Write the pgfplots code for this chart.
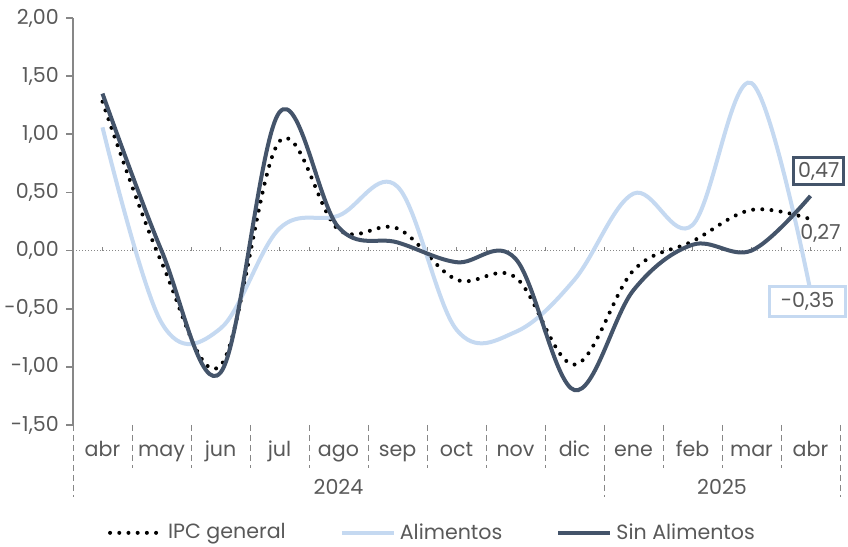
\documentclass[border=0pt]{standalone}
\usepackage{fontspec}
\setmainfont{Poppins}
\usepackage{pgfplots}
\pgfplotsset{compat=1.18}

\definecolor{sinal}{HTML}{44546A}
\definecolor{alim}{HTML}{C5D9F1}
\definecolor{txt}{HTML}{595959}
\definecolor{axgray}{HTML}{878787}

\begin{document}
\fontsize{10.3pt}{12pt}\selectfont
\begin{tikzpicture}
\begin{axis}[
    width=383.5pt, height=203.5pt, scale only axis,
    xmin=-0.5, xmax=12.5, ymin=-1.5, ymax=2,
    clip=false,
    axis x line*=bottom, axis y line*=left,
    x axis line style={draw=none},
    y axis line style={-, axgray, line width=0.9pt},
    xtick={0,...,12},
    xticklabels={abr,may,jun,jul,ago,sep,oct,nov,dic,ene,feb,mar,abr},
    x tick style={draw=none},
    xticklabel style={text=txt, anchor=base, yshift=-12pt},
    ytick={-1.5,-1,-0.5,0,0.5,1,1.5,2},
    yticklabels={{-1,50},{-1,00},{-0,50},{0,00},{0,50},{1,00},{1,50},{2,00}},
    y tick style={axgray, line width=0.9pt},
    tick align=outside, major tick length=3.5pt,
    yticklabel style={text=txt},
    legend style={at={(0.47,-0.265)}, anchor=center, draw=none, fill=none,
        legend columns=3, text=txt,
        /tikz/every even column/.append style={column sep=25pt}},
    legend image code/.code={\draw[#1] (0pt,0pt) -- (26pt,0pt);},
]
\coordinate (sw) at (rel axis cs:0,0);
\coordinate (ne) at (rel axis cs:1,1);

% zero line with small ticks
\draw[axgray, line width=0.5pt, densely dotted] (axis cs:-0.5,0) -- (axis cs:12.5,0);
\pgfplotsinvokeforeach{-0.5,0,0.5,1,1.5,2,2.5,3,3.5,4,4.5,5,5.5,6,6.5,7,7.5,8,8.5,9,9.5,10,10.5,11,11.5,12,12.5}{
  \draw[axgray, line width=0.4pt] (axis cs:#1,0) -- ([yshift=1.8pt]axis cs:#1,0);
}
% category separators
\pgfplotsinvokeforeach{0.5,1.5,2.5,3.5,4.5,5.5,6.5,7.5,9.5,10.5,11.5}{
  \draw[axgray, line width=0.4pt, densely dashed] (axis cs:#1,-1.5) -- ([yshift=-21.5pt]axis cs:#1,-1.5);
}
\pgfplotsinvokeforeach{-0.5,8.5,12.5}{
  \draw[axgray, line width=0.4pt, densely dashed] (axis cs:#1,-1.5) -- ([yshift=-36pt]axis cs:#1,-1.5);
}
\node[text=txt] at ([yshift=-31pt]axis cs:4,-1.5) {2024};
\node[text=txt] at ([yshift=-31pt]axis cs:10.5,-1.5) {2025};

\addplot[black, line width=2pt, line cap=round, dash pattern=on 0pt off 4.6pt,
    smooth, tension=0.6] coordinates {
    (0,1.28)(1,-0.10)(2,-0.99)(3,0.94)(4,0.18)(5,0.19)(6,-0.25)
    (7,-0.23)(8,-0.98)(9,-0.17)(10,0.08)(11,0.35)(12,0.27)};
\addlegendentry{IPC general}

\addplot[alim, line width=2pt, smooth, tension=0.6] coordinates {
    (0,1.06)(1,-0.62)(2,-0.67)(3,0.19)(4,0.30)(5,0.55)(6,-0.68)
    (7,-0.70)(8,-0.25)(9,0.49)(10,0.22)(11,1.44)(12,-0.35)};
\addlegendentry{Alimentos}

\addplot[sinal, line width=2pt, smooth, tension=0.6] coordinates {
    (0,1.35)(1,0.00)(2,-1.05)(3,1.19)(4,0.20)(5,0.07)(6,-0.10)
    (7,-0.07)(8,-1.20)(9,-0.34)(10,0.05)(11,0.00)(12,0.47)};
\addlegendentry{Sin Alimentos}

\node[draw=sinal, line width=1.5pt, fill=white, text=txt, inner sep=2pt,
    minimum width=25pt, minimum height=13.5pt] at (axis cs:12.14,0.684) {0,47};
\node[text=txt] at (axis cs:12.17,0.15) {0,27};
\node[draw=alim, line width=1.5pt, fill=white, text=txt, inner sep=2pt,
    minimum width=38pt, minimum height=15pt] at (axis cs:11.95,-0.44) {-0,35};
\end{axis}
\pgfresetboundingbox
\path[use as bounding box] ([shift={(-36.5pt,-61pt)}]sw) rectangle ([shift={(4pt,9pt)}]ne);
\end{tikzpicture}
\end{document}
